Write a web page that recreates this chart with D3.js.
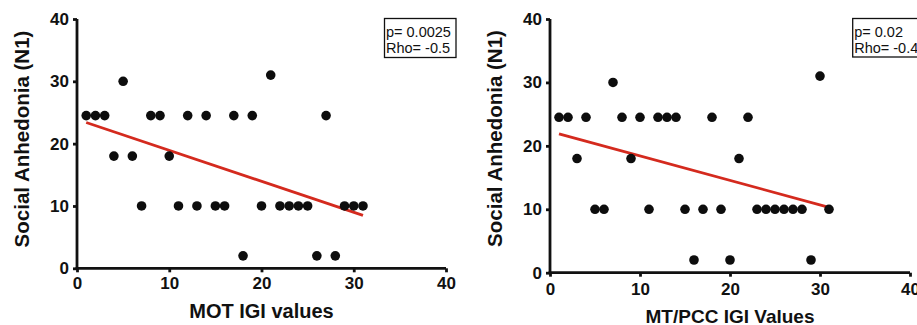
<!DOCTYPE html>
<html>
<head>
<meta charset="utf-8">
<script src="https://cdn.jsdelivr.net/npm/d3@7"></script>
<style>
  html, body { margin: 0; padding: 0; background: #fff; }
  svg { display: block; }
  text { font-family: "Liberation Sans", Arial, Helvetica, sans-serif; }
</style>
</head>
<body>
<svg id="chart" width="917" height="325"></svg>
<script>
// ---- Data ----
const xTicks = [0, 10, 20, 30, 40];
const yTicks = [0, 10, 20, 30, 40];

const motX = [1,2,3,4,5,6,7,8,9,10,11,12,13,14,15,16,17,18,19,20,21,22,23,24,25,26,27,28,29,30,31];
const motY = [24.5,24.5,24.5,18,30,18,10,24.5,24.5,18,10,24.5,10,24.5,10,10,24.5,2,24.5,10,31,10,10,10,10,2,24.5,2,10,10,10];
const motFitX = [1, 31];
const motFitY = [23.4, 8.5];

const mtX = [1,2,3,4,5,6,7,8,9,10,11,12,13,14,15,16,17,18,19,20,21,22,23,24,25,26,27,28,29,30,31];
const mtY = [24.5,24.5,18,24.5,10,10,30,24.5,18,24.5,10,24.5,24.5,24.5,10,2,10,24.5,10,2,18,24.5,10,10,10,10,10,10,2,31,10];
const mtFitX = [1, 31];
const mtFitY = [21.9, 10.3];

const yTitle = "Social Anhedonia (N1)";
const panels = [
  { xs: motX, ys: motY, fx: motFitX, fy: motFitY, xTitle: "MOT IGI values",
    stats: ["p= 0.0025", "Rho= -0.5"],
    xr: [77, 446], yr: [268.3, 19], xTitleSize: 20, xTitleY: 318, yTitleY: 139, pad: 5,
    box: { x: 384.5, y: 18.5, w: 71.5, h: 39, b1: 37, b2: 53 } },
  { xs: mtX, ys: mtY, fx: mtFitX, fy: mtFitY, xTitle: "MT/PCC IGI Values",
    stats: ["p= 0.02", "Rho= -0.4"],
    xr: [550, 910], yr: [272.7, 19], xTitleSize: 19, xTitleY: 322.5, yTitleY: 138.5, pad: 6,
    box: { x: 852.7, y: 18.5, w: 71.5, h: 38.5, b1: 36.5, b2: 52.5 } }
];

const svg = d3.select("#chart");

panels.forEach(p => {
  const x = d3.scaleLinear().domain([0, 40]).range(p.xr);
  const y = d3.scaleLinear().domain([0, 40]).range(p.yr);
  const g = svg.append("g");

  // axes
  const xa = g.append("g").attr("transform", `translate(0,${p.yr[0]})`)
    .call(d3.axisBottom(x).tickValues(xTicks).tickSize(4).tickSizeOuter(0).tickPadding(p.pad));
  const ya = g.append("g").attr("transform", `translate(${p.xr[0]},0)`)
    .call(d3.axisLeft(y).tickValues(yTicks).tickSize(4).tickSizeOuter(0).tickPadding(4));
  [xa, ya].forEach(a => {
    a.selectAll("path, line").attr("stroke", "#111").attr("stroke-width", 2.8);
    a.selectAll("text").attr("fill", "#111").style("font-size", "17px").style("font-weight", "bold");
  });
  ya.select(".domain").attr("d", `M0,${p.yr[0] + 1.4}V${p.yr[1]}`);
  xa.select(".domain").attr("d", `M${p.xr[0] - 1.4},0H${p.xr[1]}`);

  // fit line
  const fit = p.fx.map((v, i) => [v, p.fy[i]]);
  g.append("path").datum(fit)
    .attr("d", d3.line().x(d => x(d[0])).y(d => y(d[1])))
    .attr("fill", "none").attr("stroke", "#d42a1e").attr("stroke-width", 2.8);

  // points
  g.selectAll("circle.pt").data(p.xs.map((v, i) => [v, p.ys[i]])).enter()
    .append("circle").attr("class", "pt")
    .attr("cx", d => x(d[0])).attr("cy", d => y(d[1])).attr("r", 4.8)
    .attr("fill", "#0d0d0d");

  // titles
  g.append("text").attr("x", (p.xr[0] + p.xr[1]) / 2).attr("y", p.xTitleY)
    .attr("text-anchor", "middle").style("font-size", p.xTitleSize + "px").style("font-weight", "bold")
    .attr("fill", "#111").text(p.xTitle);
  g.append("text").attr("transform", `translate(${p.xr[0] - 48.5},${p.yTitleY}) rotate(-90)`)
    .attr("text-anchor", "middle").style("font-size", "20.5px").style("font-weight", "bold")
    .attr("fill", "#111").text(yTitle);

  // stats box
  const b = p.box;
  g.append("rect").attr("x", b.x).attr("y", b.y).attr("width", b.w).attr("height", b.h)
    .attr("fill", "#fff").attr("stroke", "#111").attr("stroke-width", 1.3);
  g.append("text").attr("x", b.x + 1.5).attr("y", b.b1).style("font-size", "14.5px").attr("fill", "#111").text(p.stats[0]);
  g.append("text").attr("x", b.x + 1.5).attr("y", b.b2).style("font-size", "14.5px").attr("fill", "#111").text(p.stats[1]);
});
</script>
</body>
</html>
